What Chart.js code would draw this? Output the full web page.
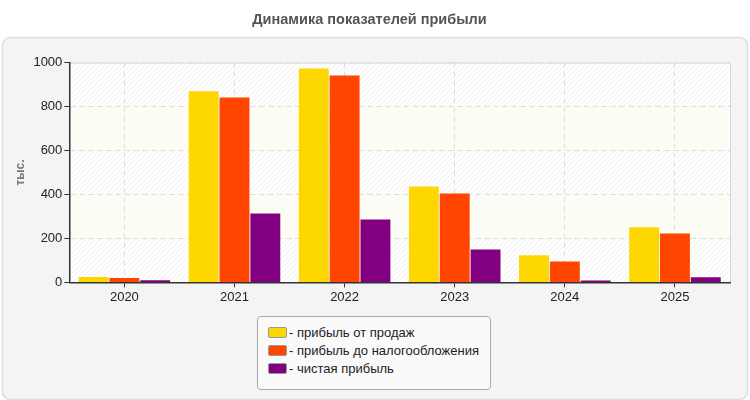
<!DOCTYPE html>
<html lang="ru">
<head>
<meta charset="UTF-8">
<title>Динамика показателей прибыли</title>
<script src="https://cdn.jsdelivr.net/npm/chart.js"></script>
<style>
  body { margin: 0; background: #fff; font-family: "Liberation Sans", Arial, sans-serif; }
  .wrap { position: relative; width: 750px; height: 400px; }
  .legend {
    position: absolute; left: 257px; top: 316px; width: 232px; height: 65px;
    background: #fafafa; border: 1px solid #aaa; border-radius: 4px;
    font-size: 13px; color: #222; padding-top: 7px; box-sizing: content-box;
  }
  .legend div { height: 18px; line-height: 18px; padding-left: 10px; }
  .legend span {
    display: inline-block; width: 17px; height: 9px; border: 1px solid #999;
    border-radius: 2px; vertical-align: -1px; margin-right: 2px;
  }
</style>
</head>
<body>
<div class="wrap">
  <canvas id="myChart" width="750" height="400"></canvas>
  <div class="legend" id="legend"></div>
</div>

<script>
// данные
const years = ['2020', '2021', '2022', '2023', '2024', '2025'];
const salesProfit = [24, 870, 973, 436, 123, 251];
const preTaxProfit = [20, 841, 941, 405, 95, 223];
const netProfit = [10, 314, 286, 150, 9, 23];
const seriesNames = ['прибыль от продаж', 'прибыль до налогообложения', 'чистая прибыль'];
const seriesColors = ['#FFD700', '#FF4500', '#800080'];

// штриховка
const pat = document.createElement('canvas');
pat.width = 5; pat.height = 5;
const pctx = pat.getContext('2d');
pctx.fillStyle = '#ffffff';
pctx.fillRect(0, 0, 5, 5);
pctx.strokeStyle = '#efefef';
pctx.lineWidth = 1;
pctx.beginPath();
pctx.moveTo(0, 5); pctx.lineTo(5, 0);
pctx.moveTo(-1, 1); pctx.lineTo(1, -1);
pctx.moveTo(4, 6); pctx.lineTo(6, 4);
pctx.stroke();

const FONT = '"Liberation Sans", Arial, sans-serif';

const background = {
  id: 'background',
  beforeDraw(chart) {
    const c = chart.ctx;
    c.save();
    c.fillStyle = '#f4f4f4';
    c.strokeStyle = '#dcdcdc';
    c.lineWidth = 1.5;
    c.beginPath();
    c.roundRect(2.5, 37.5, 745, 362, 8);
    c.fill();
    c.stroke();
    const a = chart.chartArea;
    const y = chart.scales.y;
    const pattern = c.createPattern(pat, 'repeat');
    for (let i = 0; i < 5; i++) {
      const top = y.getPixelForValue((i + 1) * 200);
      const bot = y.getPixelForValue(i * 200);
      c.fillStyle = i % 2 === 0 ? pattern : '#fdfdf6';
      c.fillRect(a.left, top, a.right - a.left, bot - top);
    }
    c.strokeStyle = '#d4d4d4';
    c.lineWidth = 1;
    c.beginPath();
    c.moveTo(a.left, a.top + 0.5);
    c.lineTo(a.right + 0.5, a.top + 0.5);
    c.lineTo(a.right + 0.5, a.bottom);
    c.stroke();
    c.restore();
  }
};

const ctx = document.getElementById('myChart');

var chart = new Chart(ctx, {
  type: 'bar',
  data: {
    labels: years,
    datasets: [
      { label: seriesNames[0], data: salesProfit, backgroundColor: seriesColors[0] },
      { label: seriesNames[1], data: preTaxProfit, backgroundColor: seriesColors[1] },
      { label: seriesNames[2], data: netProfit, backgroundColor: seriesColors[2] }
    ]
  },
  options: {
    responsive: false,
    animation: false,
    categoryPercentage: 0.84,
    barPercentage: 0.97,
    layout: { padding: { left: 9, right: 20, top: 0, bottom: 93 } },
    plugins: {
      legend: { display: false },
      tooltip: { enabled: false },
      title: {
        display: true,
        text: 'Динамика показателей прибыли',
        color: '#555',
        font: { family: FONT, size: 14.5, weight: 'bold' },
        padding: { top: 11.5, bottom: 33.7 }
      }
    },
    scales: {
      x: {
        grid: {
          offset: false, color: '#dddddd', tickLength: 5,
          tickColor: '#333', tickBorderDash: []
        },
        border: { color: '#333', width: 1.5, dash: [5, 4] },
        ticks: {
          color: '#222', padding: 2,
          font: { family: FONT, size: 13 }
        }
      },
      y: {
        min: 0, max: 1000,
        ticks: {
          stepSize: 200, color: '#222', padding: 2,
          font: { family: FONT, size: 13 },
          callback: function (v) { return String(v); }
        },
        grid: {
          color: '#dddddd', tickLength: 5,
          tickColor: '#333', tickBorderDash: []
        },
        border: { color: '#333', width: 1.5, dash: [5, 4] },
        title: {
          display: true, text: 'тыс.', color: '#777',
          font: { family: FONT, size: 12, weight: 'bold' }
        }
      }
    }
  },
  plugins: [background]
});

// легенда
const leg = document.getElementById('legend');
seriesNames.forEach(function (name, i) {
  const row = document.createElement('div');
  const sw = document.createElement('span');
  sw.style.background = seriesColors[i];
  row.appendChild(sw);
  row.appendChild(document.createTextNode('- ' + name));
  leg.appendChild(row);
});
</script>
</body>
</html>
